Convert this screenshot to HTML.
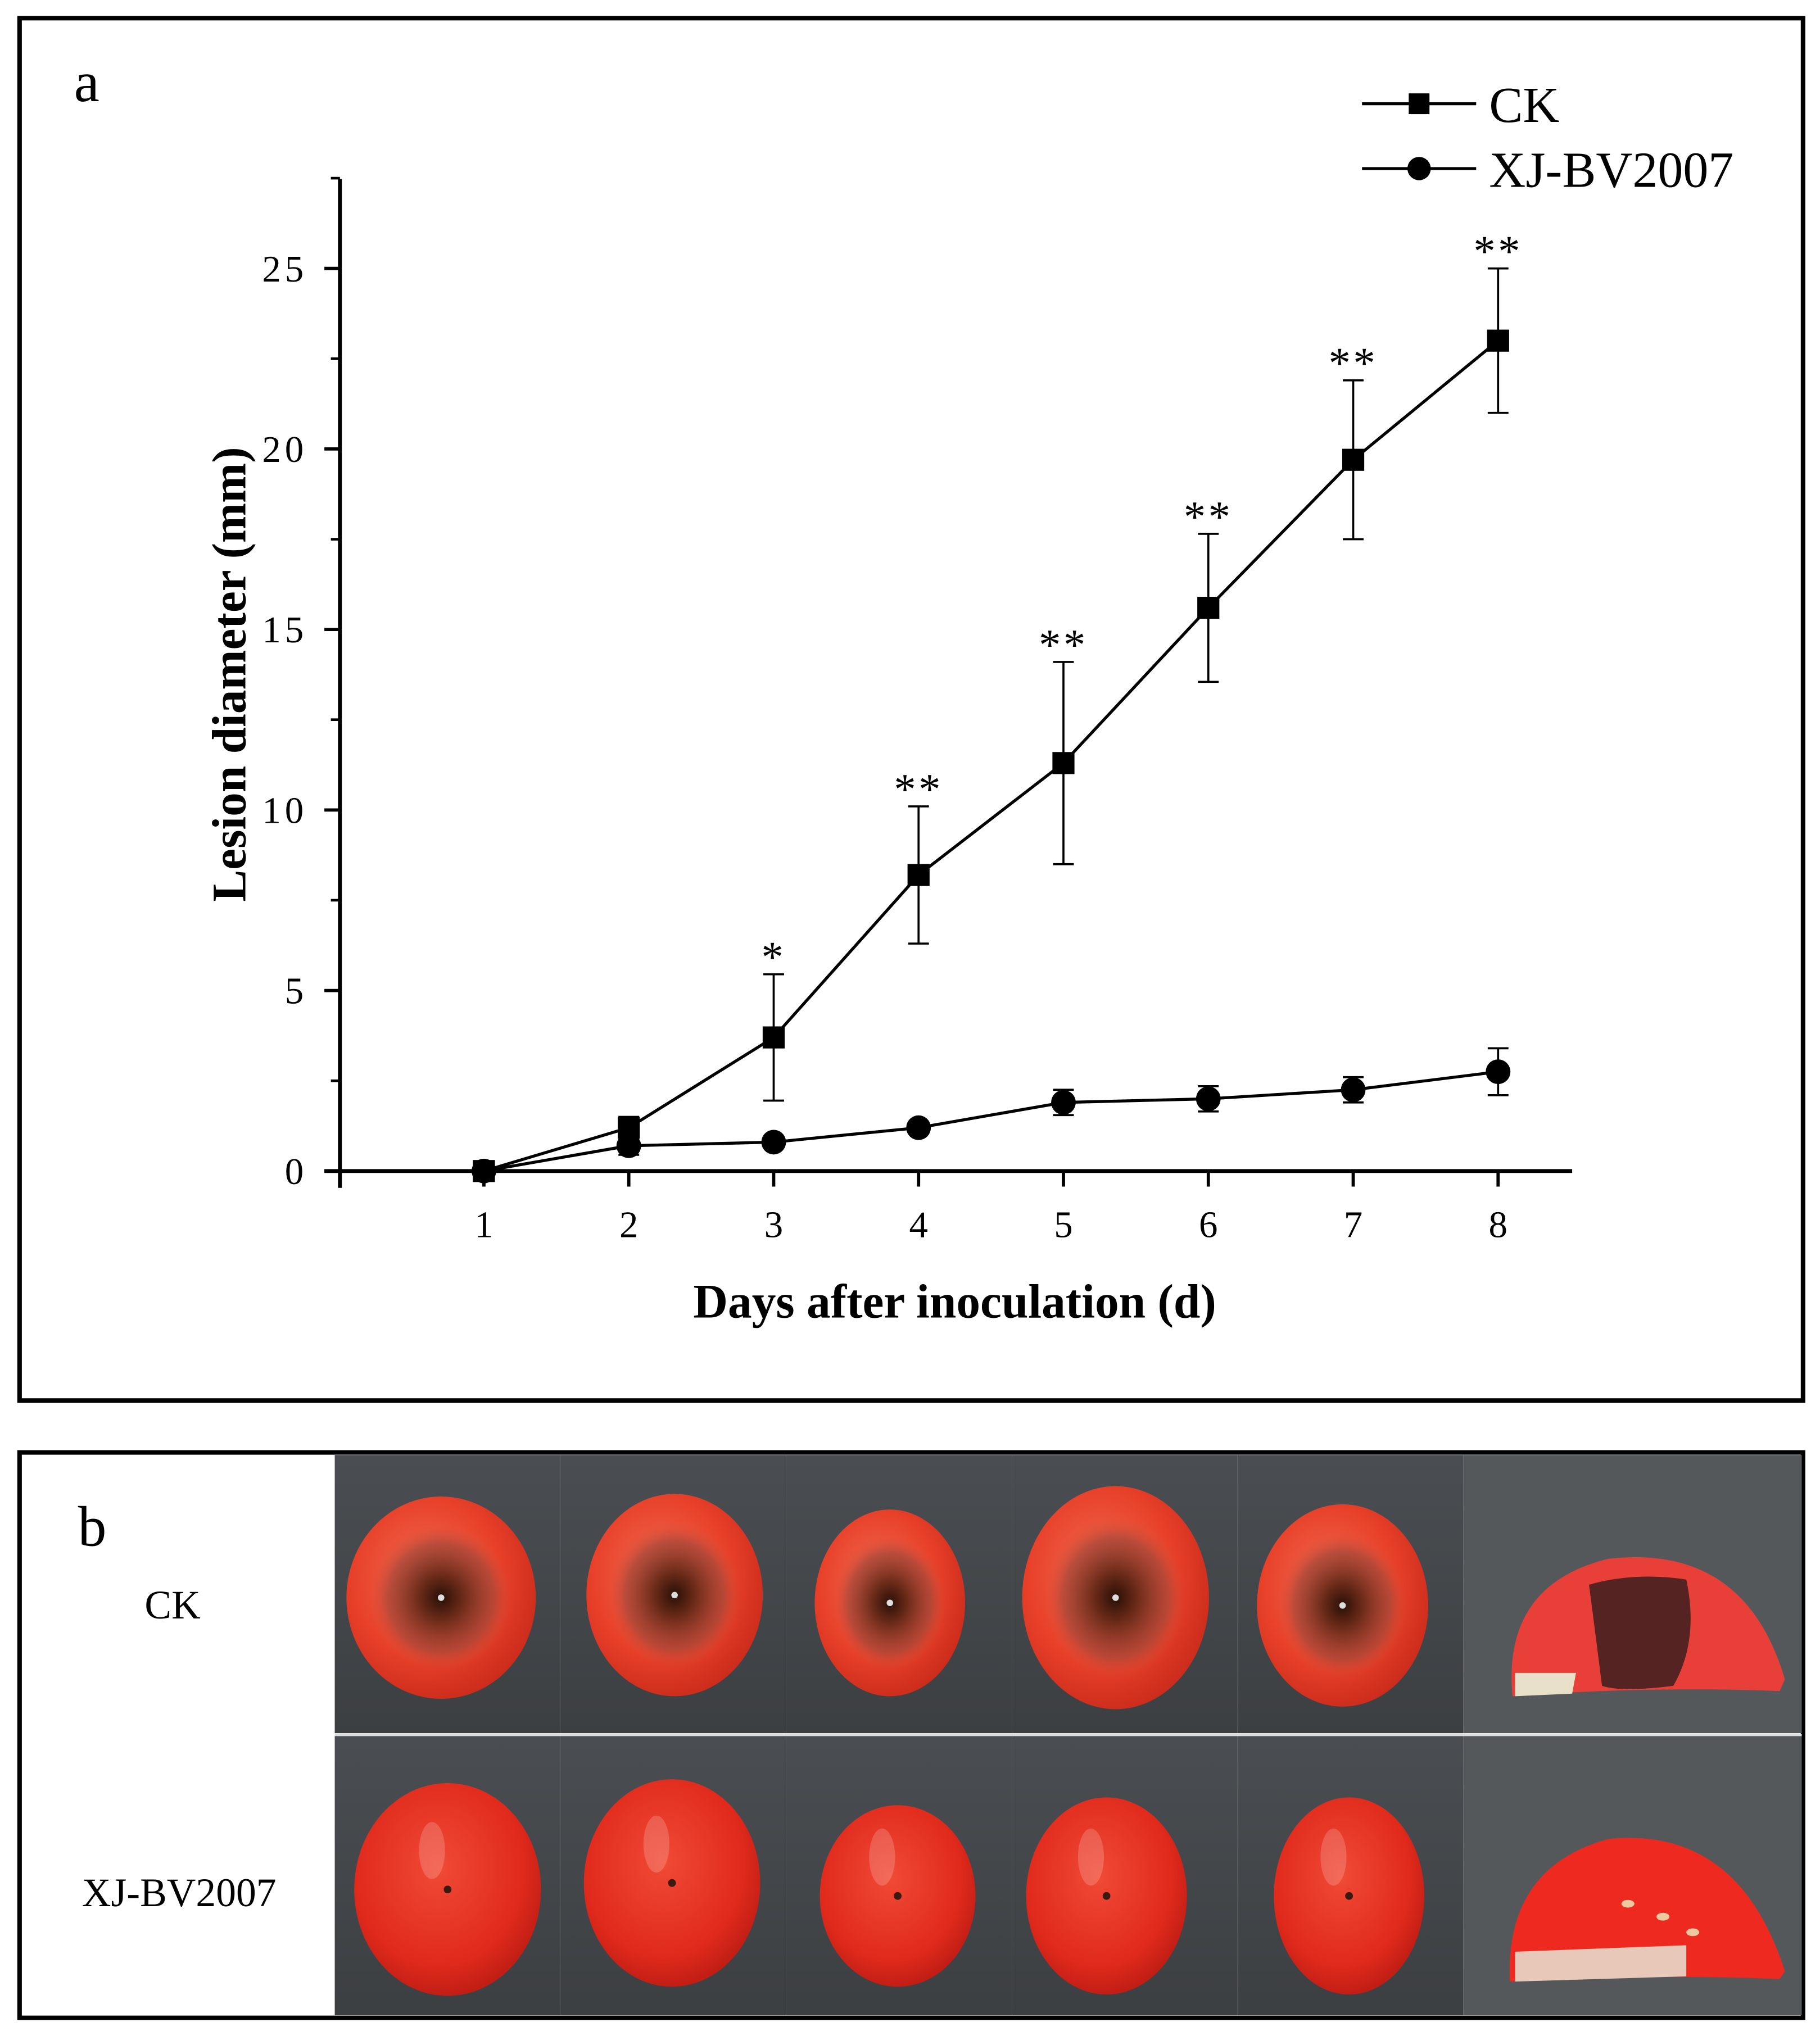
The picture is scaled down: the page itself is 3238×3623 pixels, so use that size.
<!DOCTYPE html>
<html><head><meta charset="utf-8"><style>
html,body{margin:0;padding:0;background:#fff}
svg{display:block}
text{font-family:"Liberation Serif",serif}
</style></head><body>
<svg id="fig" width="3238" height="3623" viewBox="0 0 1403 1570" xmlns="http://www.w3.org/2000/svg">
<defs>
<radialGradient id="tomRed" cx="0.42" cy="0.4" r="0.65">
<stop offset="0" stop-color="#f26a50"/><stop offset="0.6" stop-color="#e8412a"/><stop offset="1" stop-color="#c92a1a"/>
</radialGradient>
<radialGradient id="tomRed2" cx="0.45" cy="0.4" r="0.65">
<stop offset="0" stop-color="#f04a35"/><stop offset="0.7" stop-color="#e02a1c"/><stop offset="1" stop-color="#b81a12"/>
</radialGradient>
<radialGradient id="lesion" cx="0.5" cy="0.5" r="0.5">
<stop offset="0" stop-color="#2a1008"/><stop offset="0.3" stop-color="#6a2a18"/><stop offset="0.75" stop-color="#a5483a" stop-opacity="0.7"/><stop offset="1" stop-color="#d8523a" stop-opacity="0"/>
</radialGradient>
<linearGradient id="bgGrad" x1="0" y1="0" x2="0" y2="1">
<stop offset="0" stop-color="#4a4e52"/><stop offset="1" stop-color="#3c3f42"/>
</linearGradient>
</defs>
<rect x="0" y="0" width="1403" height="1570" fill="#fff"/>
<rect x="15" y="14" width="1375" height="1066" fill="none" stroke="#000" stroke-width="3.5"/>
<text x="57" y="78" font-size="44">a</text>
<g id="chart"></g>
<rect x="15" y="1120" width="1375" height="436" fill="none" stroke="#000" stroke-width="3.5"/>
<text x="60" y="1192" font-size="44">b</text>
<text x="133" y="1248" font-size="31" text-anchor="middle">CK</text>
<text x="138" y="1470" font-size="31" text-anchor="middle">XJ-BV2007</text>
<g id="photos"></g>
</svg>
<script>
const days = [1,2,3,4,5,6,7,8];
const ckValues = [0,1.2,3.7,8.2,11.3,15.6,19.7,23.0];
const ckErrors = [0,0.3,1.75,1.9,2.8,2.05,2.2,2.0];
const xjValues = [0,0.7,0.8,1.2,1.9,2.0,2.25,2.75];
const xjErrors = [0,0.25,0.15,0.15,0.35,0.35,0.35,0.65];
const sigLabels = ["","","*","**","**","**","**","**"];
const yTicks = [0,5,10,15,20,25];
const NS='http://www.w3.org/2000/svg';
const x0=262, y0=903;
function xs(d){return 373+(d-1)*111.7;}
function ys(v){return y0-v*27.84;}
const g=document.getElementById('chart');
function mk(tag,attrs,parent){const e=document.createElementNS(NS,tag);for(const k in attrs)e.setAttribute(k,attrs[k]);(parent||g).appendChild(e);return e;}
let e=mk('line',{x1:x0,y1:138,x2:x0,y2:916,stroke:'#000','stroke-width':3});


e=mk('line',{x1:250,y1:y0,x2:1212,y2:y0,stroke:'#000','stroke-width':3});


yTicks.forEach(v=>{
  let t=mk('line',{x1:x0-12,y1:ys(v),x2:x0,y2:ys(v),stroke:'#000','stroke-width':2.5});
  
  
  let m=mk('line',{x1:x0-7,y1:ys(v+2.5),x2:x0,y2:ys(v+2.5),stroke:'#000','stroke-width':2});
  
  
  let l=mk('text',{x:237,y:ys(v)+10,'font-size':29,'text-anchor':'end','letter-spacing':3});
  l.textContent=v;
  
  
});
days.forEach(d=>{
  let t=mk('line',{x1:xs(d),y1:y0,x2:xs(d),y2:y0+12,stroke:'#000','stroke-width':2.5});
  
  
  let l=mk('text',{x:xs(d),y:954,'font-size':29,'text-anchor':'middle'});
  l.textContent=d;
  
  
});
e=mk('text',{x:736,y:1016,'font-size':37,'font-weight':'bold','text-anchor':'middle'});
e.textContent='Days after inoculation (d)';


e=mk('text',{x:189,y:520,'font-size':37,'font-weight':'bold','text-anchor':'middle',transform:'rotate(-90 189 520)'});
e.textContent='Lesion diameter (mm)';


function series(vals,errs,shape,name){
  const pts=days.map((d,i)=>xs(d)+','+ys(vals[i])).join(' ');
  let p=mk('polyline',{points:pts,fill:'none',stroke:'#000','stroke-width':2.3});
  
  
  days.forEach((d,i)=>{
    const x=xs(d);
    if(errs[i]>0){
      let eb=mk('path',{d:`M${x},${ys(vals[i]-errs[i])}V${ys(vals[i]+errs[i])}M${x-8},${ys(vals[i]+errs[i])}H${x+8}M${x-8},${ys(vals[i]-errs[i])}H${x+8}`,stroke:'#000','stroke-width':1.6,fill:'none'});
      
      
    }
    let m;
    if(shape==='sq') m=mk('rect',{x:x-8.5,y:ys(vals[i])-8.5,width:17,height:17,fill:'#000'});
    else m=mk('circle',{cx:x,cy:ys(vals[i]),r:9.5,fill:'#000'});
    
    
  });
}
series(xjValues,xjErrors,'ci','xj');
series(ckValues,ckErrors,'sq','ck');
days.forEach((d,i)=>{
  if(!sigLabels[i])return;
  let s=mk('text',{x:xs(d),y:ys(ckValues[i]+ckErrors[i])-2,'font-size':34,'text-anchor':'middle','letter-spacing':2});
  s.textContent=sigLabels[i];
  
  
});
e=mk('line',{x1:1050,y1:80,x2:1138,y2:80,stroke:'#000','stroke-width':2.3});


e=mk('rect',{x:1086,y:72,width:16,height:16,fill:'#000'});


e=mk('text',{x:1148,y:94,'font-size':39});e.textContent='CK';


e=mk('line',{x1:1050,y1:130,x2:1138,y2:130,stroke:'#000','stroke-width':2.3});


e=mk('circle',{cx:1094,cy:130,r:9,fill:'#000'});


e=mk('text',{x:1148,y:144,'font-size':39});e.textContent='XJ-BV2007';



const pg=document.getElementById('photos');
const colX=[258,432,606,780,954,1128,1389];
const rowY=[1122,1338,1554];
for(let r=0;r<2;r++)for(let c=0;c<6;c++){
  let b=mk('rect',{x:colX[c],y:rowY[r],width:colX[c+1]-colX[c],height:rowY[r+1]-rowY[r]-(r===0?1.5:0),fill:c===5?'#55585b':'url(#bgGrad)'},pg);
  
  
}
e=mk('line',{x1:258,y1:1338,x2:1389,y2:1338,stroke:'#ddd','stroke-width':1.5},pg);


const ckT=[[340,1232,73,78],[520,1230,68,78],[686,1236,58,72],[860,1232,72,86],[1035,1238,66,78]];
const xjT=[[345,1457,72,82],[518,1452,68,80],[692,1462,60,70],[853,1462,62,76],[1040,1462,58,76]];
ckT.forEach(t=>{
  let o=mk('ellipse',{cx:t[0],cy:t[1],rx:t[2],ry:t[3],fill:'url(#tomRed)'},pg);
  
  
  let l=mk('ellipse',{cx:t[0],cy:t[1],rx:t[2]*0.75,ry:t[3]*0.72,fill:'url(#lesion)'},pg);
  
  
  mk('circle',{cx:t[0],cy:t[1],r:2.5,fill:'#ddd'},pg);
});
xjT.forEach(t=>{
  let o=mk('ellipse',{cx:t[0],cy:t[1],rx:t[2],ry:t[3],fill:'url(#tomRed2)'},pg);
  
  
  mk('ellipse',{cx:t[0]-12,cy:t[1]-30,rx:10,ry:22,fill:'#fff',opacity:0.18},pg);
  mk('circle',{cx:t[0],cy:t[1],r:3,fill:'#3a1a10'},pg);
});
e=mk('path',{d:'M1166,1308 Q1158,1222 1240,1202 Q1345,1190 1376,1295 L1372,1304 Q1270,1300 1166,1308Z',fill:'#e84038'},pg);


e=mk('path',{d:'M1225,1222 Q1260,1212 1300,1218 Q1310,1265 1290,1300 Q1250,1305 1235,1300 Q1230,1260 1225,1222Z',fill:'#3a1e1e',opacity:0.85},pg);


mk('path',{d:'M1168,1290 L1215,1290 L1212,1306 L1168,1308Z',fill:'#e8e0c8'},pg);
e=mk('path',{d:'M1164,1528 Q1160,1440 1240,1418 Q1340,1408 1376,1520 L1372,1526 Q1270,1522 1164,1528Z',fill:'#ee2a20'},pg);


mk('path',{d:'M1168,1505 L1300,1500 L1300,1524 L1168,1528Z',fill:'#e8c8b8'},pg);
[[1255,1468],[1282,1478],[1305,1490]].forEach(s=>mk('ellipse',{cx:s[0],cy:s[1],rx:5,ry:3,fill:'#f0c8a0'},pg));
</script>
</body></html>
